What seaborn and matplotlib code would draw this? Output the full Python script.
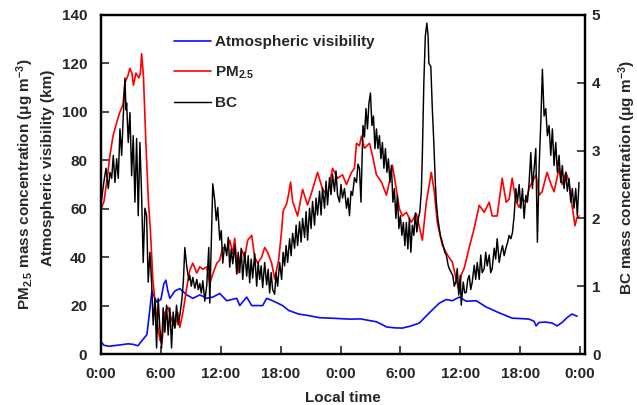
#!/usr/bin/env python3
"""Visibilidad, PM2.5 y BC a lo largo de dos días (hora local)."""

import pandas as pd
import matplotlib
matplotlib.use("Agg")
import matplotlib.pyplot as plt
import seaborn as sns

# Visibilidad atmosférica (km), eje izquierdo
vis_hours = [0.0, 0.3, 0.8, 1.2, 2.0, 2.7, 3.2, 3.7, 4.0, 4.3,
             4.6, 4.8, 5.1, 5.4, 5.6, 6.0, 6.3, 6.5, 6.7, 6.9,
             7.4, 7.9, 8.6, 9.2, 9.9, 10.6, 11.2, 11.9, 12.6, 13.6,
             13.9, 14.6, 15.1, 16.2, 16.6, 17.2, 18.2, 18.8, 19.8, 20.6,
             21.9, 23.0, 24.0, 24.9, 26.0, 27.6, 28.0, 28.6, 29.4, 30.2,
             31.0, 31.9, 32.9, 33.9, 34.6, 35.2, 35.9, 36.6, 37.6, 38.6,
             39.9, 41.2, 42.2, 42.9, 43.4, 43.6, 43.9, 44.5, 45.2, 45.7,
             46.2, 46.7, 47.2, 47.7]
vis_values = [5.0, 3.6, 3.2, 3.4, 3.8, 4.2, 4.0, 3.4, 5.0, 6.5,
              8.0, 15.0, 26.0, 23.0, 21.5, 22.5, 29.0, 30.5, 26.0, 23.0,
              26.0, 27.0, 24.4, 23.0, 24.4, 23.0, 23.5, 25.0, 22.0, 23.0,
              20.0, 23.5, 20.0, 20.0, 23.0, 22.0, 20.0, 18.0, 16.5, 16.0,
              15.0, 14.8, 14.6, 14.4, 14.5, 13.3, 12.5, 11.2, 10.8, 10.7,
              11.5, 12.8, 17.0, 21.0, 22.5, 22.0, 23.5, 21.8, 22.0, 19.4,
              17.0, 14.8, 14.6, 14.4, 13.5, 11.6, 13.0, 13.2, 12.8, 11.6,
              13.0, 15.0, 16.5, 15.6]

# PM2.5 (ug m-3), eje izquierdo
pm_hours = [0.0, 0.3, 0.6, 0.9, 1.2, 1.6, 1.9, 2.2, 2.4, 2.7,
            2.9, 3.1, 3.25, 3.5, 3.8, 3.95, 4.07, 4.25, 4.5, 4.75,
            4.95, 5.2, 5.6, 5.9, 6.1, 6.4, 6.7, 7.1, 7.4, 7.7,
            7.9, 8.2, 8.6, 8.9, 9.2, 9.6, 9.9, 10.2, 10.6, 10.9,
            11.2, 11.6, 11.9, 12.2, 12.6, 12.9, 13.2, 13.4, 13.7, 14.1,
            14.4, 14.7, 15.1, 15.4, 15.7, 16.1, 16.4, 16.7, 17.1, 17.4,
            17.8, 18.1, 18.25, 18.6, 18.8, 19.0, 19.2, 19.7, 20.2, 20.7,
            21.2, 21.7, 22.2, 22.7, 23.2, 23.7, 24.2, 24.6, 25.1, 25.4,
            25.6, 25.9, 26.1, 26.4, 26.9, 27.2, 27.6, 28.1, 28.6, 28.9,
            29.2, 29.6, 29.9, 30.2, 30.6, 31.1, 31.6, 32.2, 32.6, 33.1,
            33.4, 33.7, 34.2, 34.7, 35.2, 35.6, 35.9, 36.1, 36.4, 36.9,
            37.4, 37.9, 38.4, 38.9, 39.2, 39.7, 40.2, 40.6, 40.9, 41.2,
            41.6, 41.9, 42.2, 42.6, 42.9, 43.2, 43.6, 43.9, 44.2, 44.7,
            45.1, 45.4, 45.9, 46.2, 46.6, 46.9, 47.2, 47.5, 47.7, 47.9]
pm_values = [60, 63, 72, 82, 90, 96, 100, 103, 112, 115,
             118, 116, 111, 116, 114, 116, 124, 115, 87, 63,
             51, 30.5, 14, 5.8, 4.5, 17, 19.4, 14, 11, 17,
             11, 17, 27.6, 34.6, 37.5, 33.4, 36, 35, 36, 29,
             33, 37.5, 38.8, 44, 42.6, 47, 41.6, 47.8, 33.4, 43,
             40, 47, 49, 40, 37.5, 40, 44, 42, 37.5, 31,
             38.8, 51, 59, 62, 66, 71, 63, 57, 68, 61.5,
             68, 75, 68, 65.6, 76.7, 72.6, 74, 70, 75, 76.7,
             87, 86, 90, 85, 87, 82, 74, 71, 65.6, 71,
             78, 68, 60, 57, 58.5, 54.4, 58, 47, 62.7, 75,
             67, 54.4, 45, 41, 38, 31, 25.6, 32.6, 35.5, 44,
             52, 61.4, 58.5, 62.7, 57, 57, 72.6, 62.7, 64, 72.6,
             62.7, 60.6, 64, 62.7, 68.5, 71, 74, 65.6, 67, 75,
             70, 67, 76.7, 70, 75, 71, 61.4, 53, 56.5, 57]

# BC (ug m-3), eje derecho
bc_hours = [0.03, 0.25, 0.5, 0.73, 0.9, 1.07, 1.23, 1.4, 1.57, 1.73,
            1.9, 2.07, 2.23, 2.4, 2.5, 2.57, 2.73, 2.9, 3.07, 3.23,
            3.4, 3.57, 3.73, 3.9, 4.07, 4.23, 4.4, 4.57, 4.73, 4.9,
            5.07, 5.23, 5.4, 5.57, 5.73, 5.9, 6.07, 6.23, 6.4, 6.57,
            6.73, 6.9, 7.07, 7.23, 7.4, 7.57, 7.73, 7.9, 8.1, 8.25,
            8.4, 8.6, 8.8, 8.9, 9.05, 9.2, 9.4, 9.6, 9.75, 9.9,
            10.05, 10.2, 10.4, 10.6, 10.8, 10.9, 11.0, 11.2, 11.4, 11.55,
            11.7, 11.9, 12.05, 12.2, 12.4, 12.6, 12.75, 12.9, 13.05, 13.2,
            13.4, 13.6, 13.75, 13.9, 14.05, 14.2, 14.4, 14.6, 14.75, 14.9,
            15.05, 15.2, 15.4, 15.6, 15.75, 15.9, 16.05, 16.2, 16.4, 16.6,
            16.75, 16.9, 17.05, 17.2, 17.4, 17.55, 17.7, 17.9, 18.1, 18.25,
            18.4, 18.55, 18.7, 18.9, 19.05, 19.2, 19.4, 19.55, 19.7, 19.9,
            20.05, 20.2, 20.4, 20.55, 20.7, 20.9, 21.05, 21.2, 21.4, 21.55,
            21.7, 21.9, 22.05, 22.2, 22.4, 22.55, 22.7, 22.9, 23.05, 23.2,
            23.4, 23.55, 23.7, 23.9, 24.05, 24.2, 24.4, 24.6, 24.75, 24.9,
            25.05, 25.2, 25.4, 25.6, 25.75, 25.9, 26.05, 26.25, 26.4, 26.55,
            26.7, 26.85, 27.0, 27.15, 27.3, 27.45, 27.6, 27.75, 27.9, 28.05,
            28.2, 28.35, 28.5, 28.65, 28.8, 28.95, 29.1, 29.25, 29.4, 29.55,
            29.7, 29.85, 30.0, 30.15, 30.3, 30.45, 30.6, 30.75, 30.9, 31.05,
            31.2, 31.35, 31.5, 31.65, 31.8, 31.95, 32.1, 32.2, 32.35, 32.5,
            32.65, 32.78, 32.85, 33.05, 33.2, 33.35, 33.5, 33.6, 33.75, 34.0,
            34.2, 34.45, 34.6, 34.8, 34.9, 35.1, 35.25, 35.4, 35.55, 35.7,
            35.85, 36.0, 36.1, 36.3, 36.45, 36.6, 36.75, 36.9, 37.05, 37.2,
            37.4, 37.55, 37.7, 37.9, 38.05, 38.2, 38.4, 38.55, 38.7, 38.9,
            39.05, 39.2, 39.4, 39.55, 39.7, 39.9, 40.07, 40.23, 40.4, 40.57,
            40.75, 40.9, 41.07, 41.23, 41.4, 41.57, 41.73, 41.9, 42.07, 42.23,
            42.4, 42.57, 42.73, 42.9, 43.07, 43.23, 43.4, 43.57, 43.73, 43.9,
            44.07, 44.23, 44.4, 44.57, 44.73, 44.9, 45.07, 45.23, 45.4, 45.57,
            45.73, 45.9, 46.07, 46.23, 46.4, 46.57, 46.73, 46.9, 47.07, 47.23,
            47.4, 47.57, 47.73, 47.9]
bc_values = [2.24, 2.5, 2.74, 2.44, 2.68, 2.59, 2.93, 2.53, 2.88, 2.59,
             3.32, 2.93, 3.51, 4.07, 3.6, 3.7, 3.12, 3.56, 2.63, 3.22,
             2.24, 3.18, 2.04, 3.12, 2.34, 1.35, 2.15, 2.04, 1.06, 1.5,
             1.06, 0.43, 0.82, 0.09, 0.82, 0.38, 0.09, 0.68, 0.32, 0.72,
             0.28, 0.68, 0.09, 0.62, 0.38, 0.72, 0.43, 0.57, 0.8, 1.06,
             1.57, 1.28, 1.09, 1.16, 1.0, 1.13, 0.97, 1.1, 0.95, 1.04,
             0.9, 1.08, 0.78, 1.02, 1.57, 0.75, 1.35, 2.51, 2.26, 1.97,
             2.16, 1.68, 1.82, 1.34, 1.62, 1.45, 1.72, 1.28, 1.55, 1.33,
             1.6, 1.18, 1.5, 1.2, 1.56, 1.1, 1.5, 1.15, 1.45, 1.05,
             1.4, 1.12, 1.48, 1.0, 1.35, 1.1, 1.3, 0.98, 1.35, 1.02,
             1.25, 0.9, 1.2, 0.95, 0.88, 1.2, 1.0, 1.35, 1.1, 1.5,
             1.3, 1.6, 1.35, 1.7, 1.45, 1.78, 1.56, 1.9, 1.6, 1.95,
             1.65, 2.0, 1.72, 2.1, 1.68, 2.15, 1.85, 2.25, 1.9, 2.3,
             2.05, 2.4, 2.05, 2.45, 2.15, 2.55, 2.2, 2.6, 2.35, 2.65,
             2.4, 2.7, 2.35, 2.24, 2.5, 2.3, 2.44, 2.15, 2.3, 2.04,
             2.4, 2.34, 2.6, 2.53, 2.8, 2.74, 2.24, 3.37, 3.2, 3.62,
             3.32, 3.7, 3.85, 3.37, 3.51, 3.03, 3.32, 3.03, 3.22, 2.88,
             3.12, 2.74, 3.03, 2.68, 2.88, 2.53, 2.78, 2.24, 2.44, 2.0,
             2.34, 1.85, 2.04, 1.75, 1.94, 1.6, 1.94, 1.55, 2.0, 1.5,
             1.9, 1.75, 2.08, 1.8, 2.0, 2.1, 2.4, 2.93, 4.0, 4.69,
             4.88, 4.69, 4.29, 4.24, 3.62, 3.12, 2.53, 2.24, 2.0, 1.75,
             1.65, 1.5, 1.46, 1.3, 1.26, 1.2, 1.16, 1.0, 1.06, 1.26,
             0.87, 1.16, 0.72, 1.06, 0.9, 0.91, 1.1, 1.16, 0.95, 1.06,
             1.31, 1.1, 1.35, 1.1, 1.46, 1.2, 1.26, 1.5, 1.3, 1.46,
             1.2, 1.26, 1.56, 1.4, 1.7, 1.35, 1.5, 1.6, 1.45, 1.56,
             1.65, 1.75, 1.7, 1.79, 2.04, 2.44, 2.24, 2.5, 2.15, 2.44,
             2.0, 2.34, 2.24, 2.53, 2.97, 2.44, 2.74, 3.03, 1.65, 2.74,
             3.41, 4.2, 3.51, 3.62, 3.22, 3.37, 2.93, 3.32, 2.78, 3.12,
             2.68, 2.93, 2.53, 2.78, 2.44, 2.68, 2.4, 2.59, 2.24, 2.44,
             2.15, 2.44, 2.04, 2.53]

x_ticks = [0, 6, 12, 18, 24, 30, 36, 42, 48]
x_ticklabels = ["0:00", "6:00", "12:00", "18:00", "0:00", "6:00", "12:00", "18:00", "0:00"]

sns.set_style("ticks")
plt.rcParams["font.family"] = ["Liberation Sans", "DejaVu Sans"]
plt.rcParams["font.weight"] = "bold"
plt.rcParams["font.size"] = 11
plt.rcParams["mathtext.fontset"] = "custom"
plt.rcParams["mathtext.rm"] = "Liberation Sans:bold"
plt.rcParams["mathtext.it"] = "Liberation Sans:bold"
plt.rcParams["mathtext.bf"] = "Liberation Sans:bold"
plt.rcParams["mathtext.default"] = "rm"

vis = pd.DataFrame({"hora": vis_hours, "valor": vis_values})
pm = pd.DataFrame({"hora": pm_hours, "valor": pm_values})
bc = pd.DataFrame({"hora": bc_hours, "valor": bc_values})

fig = plt.figure(figsize=(6.37, 4.05), dpi=100)
ax = fig.add_axes([101 / 637, 51 / 405, 484 / 637, 339 / 405])
ax2 = ax.twinx()

sns.lineplot(data=vis, x="hora", y="valor", ax=ax, color="#0a0aff", lw=1.2,
             estimator=None, sort=False, label="Atmospheric visibility")
sns.lineplot(data=pm, x="hora", y="valor", ax=ax, color="#ff0000", lw=1.2,
             estimator=None, sort=False, label="PM$_{2.5}$")
sns.lineplot(data=bc, x="hora", y="valor", ax=ax2, color="black", lw=1.05,
             estimator=None, sort=False, label="BC")

ax.set_xlim(0, 48.5)
ax.set_ylim(0, 140)
ax2.set_ylim(0, 5)
ax.set_xticks(x_ticks)
ax.set_xticklabels(x_ticklabels)
ax.set_yticks(range(0, 141, 20))
ax2.set_yticks(range(0, 6))
ax.set_xlabel("")
ax.set_ylabel("")
ax2.set_ylabel("")

for a in (ax, ax2):
    for s in a.spines.values():
        s.set_visible(True)
        s.set_linewidth(1.6)
        s.set_color("black")
ax.tick_params(axis="x", direction="in", length=6, width=1.2, pad=9, labelsize=11)
ax.tick_params(axis="y", direction="in", length=6, width=1.2, pad=10, labelsize=11)
ax2.tick_params(axis="y", direction="in", length=6, width=1.2, pad=5, labelsize=11)

# Etiquetas de ejes
ax.text(-0.157, 0.5, "PM$_{2.5}$ mass concentration (μg m$^{-3}$)", transform=ax.transAxes,
        rotation=90, ha="center", va="center", fontsize=11, fontweight="bold")
ax.text(-0.109, 0.55, "Atmospheric visibility (km)", transform=ax.transAxes,
        rotation=90, ha="center", va="center", fontsize=11, fontweight="bold")
ax2.text(1.087, 0.52, "BC mass concentration (μg m$^{-3}$)", transform=ax.transAxes,
         rotation=90, ha="center", va="center", fontsize=11, fontweight="bold")
ax.text(0.5, -0.13, "Local time", transform=ax.transAxes,
        ha="center", va="center", fontsize=11, fontweight="bold")

# Leyenda combinada
h1, l1 = ax.get_legend_handles_labels()
h2, l2 = ax2.get_legend_handles_labels()
ax.get_legend().remove()
ax2.get_legend().remove()
ax2.legend(h1 + h2, l1 + l2, loc="upper left", bbox_to_anchor=(0.151, 0.94),
           frameon=False, borderpad=0, borderaxespad=0, handlelength=2.4,
           handletextpad=0.3, labelspacing=1.0, prop={"weight": "bold", "size": 11})

fig.savefig("out.png", dpi=100)
plt.close(fig)
